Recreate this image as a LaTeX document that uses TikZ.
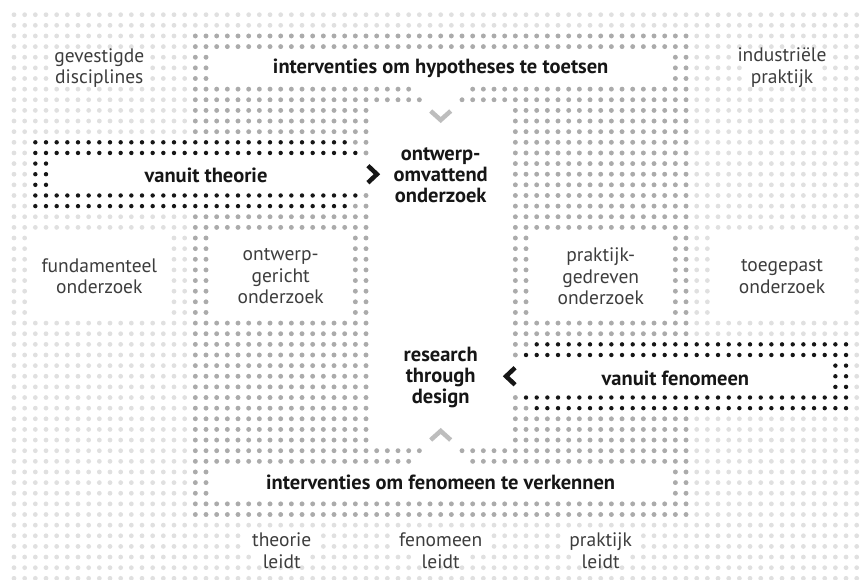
\documentclass[tikz,border=0pt]{standalone}
\usepackage{fontspec}
\setmainfont{PT Sans}
\usetikzlibrary{calc}

\definecolor{dotlight}{HTML}{E0E0E0}
\definecolor{dotmid}{HTML}{ABABAB}
\definecolor{dotdark}{HTML}{161616}
\definecolor{txtgray}{HTML}{3D3D3D}
\definecolor{chevgray}{HTML}{BDBDBD}

\tikzset{
    lighttxt/.style={align=center, text=txtgray, inner sep=0pt, font=\fontsize{19.5}{21.5}\selectfont},
    boldtxt/.style={align=center, text=dotdark, inner sep=0pt, font=\fontsize{20.5}{21}\selectfont\bfseries},
    chevron/.style={line width=4.5pt, miter limit=10}
}

\begin{document}
\begin{tikzpicture}[x=10.667pt, y=-10.634pt]
    % Dot radii
    \def\dr{2.4pt}
    \def\br{2.2pt}

    \useasboundingbox (-1.3125,-1.3824) rectangle (79.59,53.07);

    % Light background dots, one row at a time
    \foreach \r in {0,...,53}
        \fill[dotlight] \foreach \c in {0,...,79}{(\c,\r) circle (\dr)};

    % Darker dots of the frame
    \foreach \r in {2,...,47}
        \fill[dotmid] \foreach \c in {17,...,63}{(\c,\r) circle (\dr)};

    % Clear the dots under both arrows
    \fill[white] (1.5,11.5) rectangle (32.5,18.5);
    \fill[white] (47.5,30.5) rectangle (78.5,37.5);
    \fill[dotmid] (32,12) circle (\dr) (32,18) circle (\dr) (48,31) circle (\dr) (48,37) circle (\dr);

    % Arrow from theory
    \foreach \r/\a/\b in {12/2/31, 13/2/32, 14/2/3, 15/2/3, 16/2/3, 17/2/32, 18/2/31}
        \fill[dotdark] \foreach \c in {\a,...,\b}{(\c,\r) circle (\br)};

    % Arrow from phenomenon
    \foreach \r/\a/\b in {31/49/78, 32/48/78, 33/77/78, 34/77/78, 35/77/78, 36/48/78, 37/49/78}
        \fill[dotdark] \foreach \c in {\a,...,\b}{(\c,\r) circle (\br)};

    % White fields (columns a..b, rows p..q)
    \foreach \a/\b/\p/\q in {19/61/4/6, 19/61/43/45, 34/46/9/40, 38/42/7/7, 39/41/8/8,
        39/41/41/41, 38/42/42/42, 4/33/14/16, 47/76/33/35,
        19/31/21/28, 49/61/21/28, 2/14/21/28, 66/78/21/28,
        4/12/4/6, 68/76/4/4, 69/75/5/6,
        22/28/49/50, 23/27/51/51, 36/44/49/50, 38/42/51/51, 52/58/49/50, 53/57/51/51}
        \fill[white] (\a-0.5,\p-0.5) rectangle (\b+0.5,\q+0.5);

    % Chevrons
    \coordinate (vtop) at (40,9.48);
    \coordinate (vbot) at (40,39.57);
    \coordinate (thr) at (33.6,15);
    \coordinate (fen) at (46.55,34);
    \draw[chevron, chevgray] (vtop) ++(-10pt,4.5pt) -- ++(10pt,-9pt) -- ++(10pt,9pt);
    \draw[chevron, chevgray] (vbot) ++(-10pt,-4.5pt) -- ++(10pt,9pt) -- ++(10pt,-9pt);
    \draw[chevron, dotdark] (thr) ++(-4.5pt,8.5pt) -- ++(9pt,-8.5pt) -- ++(-9pt,-8.5pt);
    \draw[chevron, dotdark] (fen) ++(4.5pt,8.5pt) -- ++(-9pt,-8.5pt) -- ++(9pt,-8.5pt);

    % Bold labels
    \node[boldtxt] (hypo) at (40,5) {interventies om hypotheses te toetsen};
    \node[boldtxt] (verk) at (40,44) {interventies om fenomeen te verkennen};
    \node[boldtxt] (omvat) at (40,15.12) {ontwerp-\\omvattend\\onderzoek};
    \node[boldtxt] (rtd) at (40,34.07) {research\\through\\design};
    \node[boldtxt] (vtheo) at (18,15.07) {vanuit theorie};
    \node[boldtxt] (vfeno) at (62,34.2) {vanuit fenomeen};

    % Light labels
    \node[lighttxt] (gevest) at (8,5) {gevestigde\\disciplines};
    \node[lighttxt] (indus) at (72,5) {industriële\\praktijk};
    \node[lighttxt] (fund) at (8,24.6) {fundamenteel\\onderzoek};
    \node[lighttxt] (gericht) at (25,24.6) {ontwerp-\\gericht\\onderzoek};
    \node[lighttxt] (gedrev) at (55,24.6) {praktijk-\\gedreven\\onderzoek};
    \node[lighttxt] (toegep) at (72,24.6) {toegepast\\onderzoek};
    \node[lighttxt] (tleidt) at (25.1,50.4) {theorie\\leidt};
    \node[lighttxt] (fleidt) at (40,50.4) {fenomeen\\leidt};
    \node[lighttxt] (pleidt) at (55,50.4) {praktijk\\leidt};
\end{tikzpicture}
\end{document}
